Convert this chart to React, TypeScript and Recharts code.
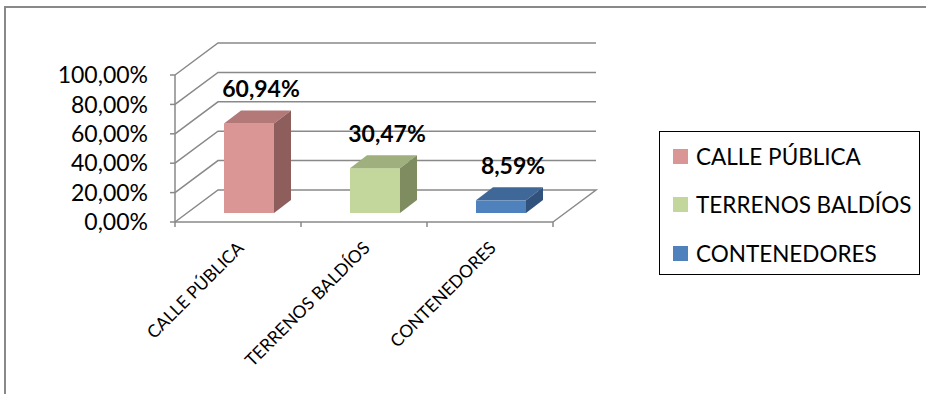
import React from "react";
import {
  Bar,
  BarChart,
  CartesianGrid,
  LabelList,
  Legend,
  XAxis,
  YAxis,
} from "recharts";

const categories = ["CALLE PÚBLICA", "TERRENOS BALDÍOS", "CONTENEDORES"];
const values = [0.6094, 0.3047, 0.0859];
const yTicks = [0, 0.2, 0.4, 0.6, 0.8, 1];

const FRONT = ["#D99694", "#C3D69B", "#4F81BD"];
const TOP = ["#B27978", "#9FAF7E", "#3F6898"];
const SIDE = ["#8E5E5D", "#7E8C60", "#30527D"];

const FONT = "Lato, 'Open Sans', sans-serif";
const GRID = "#898989";

// depth of the 3d box (floor / walls) and of the bars
const DEPTH_X = 43;
const DEPTH_Y = -32;
const BAR_DX = 11;
const BAR_DY = -9;
const BAR_DEPTH_X = 17;
const BAR_DEPTH_Y = -13;

const W = 926;
const H = 394;
const PLOT_LEFT = 175;
const PLOT_RIGHT = 553;
const PLOT_TOP = 75;
const PLOT_BOTTOM = 222;
const Y_AXIS_W = 60;
const X_AXIS_H = 30;

const data = categories.map((name, i) => ({ name, value: values[i] }));

const fmtPct = (v: number) => (v * 100).toFixed(2).replace(".", ",") + "%";

const gridLine = (p: any) => {
  const { x1, y1, x2, key } = p;
  let d = `M${x1},${y1} L${x1 + DEPTH_X},${y1 + DEPTH_Y} L${x2 + DEPTH_X},${y1 + DEPTH_Y}`;
  if (Math.abs(y1 - PLOT_BOTTOM) < 1) {
    d += ` L${x2},${y1}`;
  }
  return <path key={key} d={d} fill="none" stroke={GRID} strokeWidth={1.5} />;
};

const Bar3D = (props: any) => {
  const { x, y, width, height, index } = props;
  if (height == null || height <= 0) return null;
  const fx = x + BAR_DX;
  const fy = y + BAR_DY;
  const i = index ?? 0;
  const top = `M${fx},${fy} L${fx + BAR_DEPTH_X},${fy + BAR_DEPTH_Y} L${fx + width + BAR_DEPTH_X},${fy + BAR_DEPTH_Y} L${fx + width},${fy} Z`;
  const side = `M${fx + width},${fy} L${fx + width + BAR_DEPTH_X},${fy + BAR_DEPTH_Y} L${fx + width + BAR_DEPTH_X},${fy + height + BAR_DEPTH_Y} L${fx + width},${fy + height} Z`;
  return (
    <g>
      <rect x={fx} y={fy} width={width} height={height} fill={FRONT[i]} />
      <path d={top} fill={TOP[i]} />
      <path d={side} fill={SIDE[i]} />
    </g>
  );
};

const CatTick = (props: any) => {
  const { x, y, payload, index } = props;
  const band = (PLOT_RIGHT - PLOT_LEFT) / categories.length;
  const left = x - band / 2;
  const ax = x + 7;
  const ay = y + 19;
  return (
    <g>
      <line x1={left} y1={PLOT_BOTTOM} x2={left} y2={PLOT_BOTTOM + 5} stroke={GRID} strokeWidth={1.5} />
      {index === categories.length - 1 && (
        <line x1={left + band} y1={PLOT_BOTTOM} x2={left + band} y2={PLOT_BOTTOM + 5} stroke={GRID} strokeWidth={1.5} />
      )}
      <text
        x={ax}
        y={ay}
        textAnchor="end"
        fontFamily={FONT}
        fontSize={17.5}
        fill="#000"
        transform={`rotate(-45 ${ax} ${ay})`}
      >
        {payload.value}
      </text>
    </g>
  );
};

const ValueLabel = (props: any) => {
  const { x, y, width, value } = props;
  return (
    <text
      x={x + BAR_DX + width / 2 + 12}
      y={y + BAR_DY - 26}
      textAnchor="middle"
      fontFamily={FONT}
      fontWeight="bold"
      fontSize={23}
      fill="#000"
    >
      {fmtPct(value)}
    </text>
  );
};

const LegendBox = () => (
  <div
    style={{
      boxSizing: "border-box",
      width: 261,
      height: 144,
      border: "1.5px solid #000",
      padding: "0 0 0 13px",
      fontFamily: FONT,
      fontSize: 22.5,
      background: "#fff",
    }}
  >
    {categories.map((c, i) => (
      <div key={c} style={{ display: "flex", alignItems: "center", height: 48.5 }}>
        <span style={{ width: 15, height: 15, background: FRONT[i], marginRight: 8 }} />
        <span>{c}</span>
      </div>
    ))}
  </div>
);

export default function App() {
  return (
    <div style={{ position: "absolute", left: 0, top: 0, width: W, height: H, background: "#fff" }}>
      <div
        style={{
          position: "absolute",
          left: 4,
          top: 6,
          width: W - 4,
          height: H - 6,
          borderTop: "2px solid #898989",
          borderLeft: "2px solid #898989",
        }}
      />
      <BarChart
        width={W}
        height={H}
        data={data}
        margin={{
          top: PLOT_TOP,
          right: W - PLOT_RIGHT,
          bottom: H - PLOT_BOTTOM - X_AXIS_H,
          left: PLOT_LEFT - Y_AXIS_W,
        }}
        barSize={50}
        style={{ position: "absolute", left: 0, top: 0 }}
      >
        <CartesianGrid vertical={false} horizontal={gridLine} />
        <XAxis
          dataKey="name"
          height={X_AXIS_H}
          interval={0}
          tickLine={false}
          axisLine={{ stroke: GRID, strokeWidth: 1.5 }}
          tick={CatTick}
        />
        <YAxis
          width={Y_AXIS_W}
          domain={[0, 1]}
          ticks={yTicks}
          interval={0}
          tickFormatter={fmtPct}
          tickSize={5}
          tickMargin={22}
          axisLine={{ stroke: GRID, strokeWidth: 1.5 }}
          tickLine={{ stroke: GRID, strokeWidth: 1.5 }}
          tick={{ fill: "#000", fontSize: 23, fontFamily: FONT }}
        />
        <Bar dataKey="value" shape={Bar3D} isAnimationActive={false}>
          <LabelList dataKey="value" content={ValueLabel} />
        </Bar>
        <Legend
          layout="horizontal"
          verticalAlign="middle"
          align="center"
          content={() => <LegendBox />}
          wrapperStyle={{ left: 659, top: 131, width: 261, height: 144 }}
        />
      </BarChart>
    </div>
  );
}
